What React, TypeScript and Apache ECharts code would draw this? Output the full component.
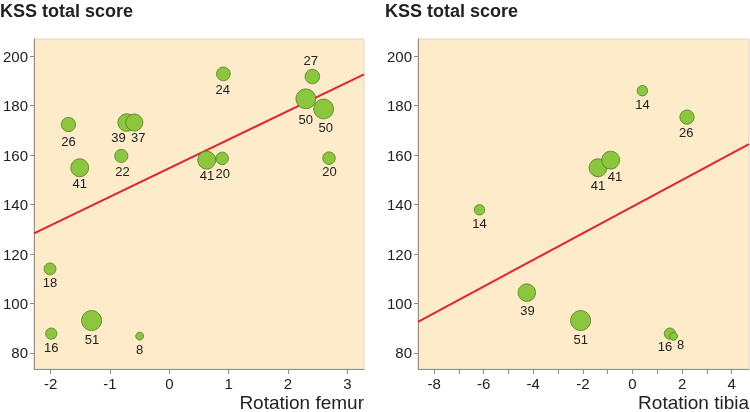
import React, { useEffect, useRef } from "react";
import * as echarts from "echarts";

// ---- Data ----
const femurX = [-1.70, -1.51, -0.81, -0.72, -0.59, 0.91, 0.63, 0.89, 2.41, 2.60, 2.30, 2.69, -2.01, -1.99, -1.31, -0.50];
const femurY = [172.4, 154.9, 159.7, 173.2, 173.2, 192.9, 158.0, 158.7, 191.8, 178.7, 182.8, 158.8, 114.0, 87.8, 93.1, 86.8];
const femurN = [26, 41, 22, 39, 37, 24, 41, 20, 27, 50, 50, 20, 18, 16, 51, 8];

const tibiaX = [0.40, 2.20, -1.39, -0.88, -6.17, -4.26, -2.09, 1.51, 1.66];
const tibiaY = [186.1, 175.4, 154.9, 158.0, 137.9, 104.4, 93.1, 87.8, 86.7];
const tibiaN = [14, 26, 41, 41, 14, 39, 51, 16, 8];

const femurTrendX = [-2.28, 3.28];
const femurTrendY = [128.4, 192.7];
const tibiaTrendX = [-8.65, 4.7];
const tibiaTrendY = [92.6, 164.5];

const yTicks = [80, 100, 120, 140, 160, 180, 200];
const femurXTicks = [-2, -1, 0, 1, 2, 3];
const tibiaXTicks = [-8, -7, -6, -5, -4, -3, -2, -1, 0, 1, 2, 3, 4];
const tibiaXLabels = [-8, -6, -4, -2, 0, 2, 4];

const titleText = "KSS total score";
const femurAxisName = "Rotation femur";
const tibiaAxisName = "Rotation tibia";

// ---- Layout (label offsets from bubble centre, px) ----
const femurLabelOffsets = [
  [0, 16.7], [0, 16], [1.3, 16], [-8, 15.4], [4, 15.4], [-0.7, 15.6], [0.3, 15.7], [0.6, 15],
  [-1.6, -16.3], [2, 18.3], [0, 20.3], [0.6, 13.7], [0, 13.3], [0, 14.3], [0.3, 19], [0, 13],
];
const tibiaLabelOffsets = [
  [0, 14], [-0.7, 15.7], [0, 18], [4.3, 16.7], [0, 13.6], [0.6, 18], [0, 19], [-5, 12.7], [7, 8.6],
];

const FONT = "'Liberation Sans', Arial, Helvetica, sans-serif";
const BG = "#fdebc9";
const BUBBLE = "#8cc63f";
const BUBBLE_BORDER = "#4f7d22";
const RED = "#e1242b";
const AXIS = "#8f8f8f";

function bubbleData(xs: number[], ys: number[], ns: number[], offs: number[][]) {
  return xs.map((x, i) => ({
    value: [x, ys[i], ns[i]],
    label: { offset: offs[i] },
  }));
}

export default function App() {
  const ref = useRef<HTMLDivElement>(null);
  useEffect(() => {
    if (!ref.current) return;
    const chart = echarts.init(ref.current, undefined, { renderer: "svg" });

    const yAxisBase = (gridIndex: number) => ({
      type: "value",
      gridIndex,
      min: 73.5,
      max: 207,
      splitLine: { show: false },
      axisLine: { show: true, onZero: false, lineStyle: { color: AXIS, width: 1 } },
      axisTick: { show: true, length: 4, lineStyle: { color: AXIS }, customValues: yTicks },
      axisLabel: { color: "#222", fontSize: 15, fontFamily: FONT, margin: 6, customValues: yTicks },
    });

    const xAxisBase = (gridIndex: number, min: number, max: number, ticks: number[], labels: number[]) => ({
      type: "value",
      gridIndex,
      min,
      max,
      splitLine: { show: false },
      axisLine: { show: true, onZero: false, lineStyle: { color: AXIS, width: 1 } },
      axisTick: { show: true, length: 5, lineStyle: { color: AXIS }, customValues: ticks },
      axisLabel: { color: "#222", fontSize: 15, lineHeight: 15, fontFamily: FONT, margin: 7, customValues: labels },
    });

    const scatter = (xi: number, data: any[]) => ({
      type: "scatter",
      xAxisIndex: xi,
      yAxisIndex: xi,
      z: 3,
      symbolSize: (v: number[]) => 2.8 * Math.sqrt(v[2]),
      itemStyle: { color: BUBBLE, borderColor: BUBBLE_BORDER, borderWidth: 0.8, opacity: 1 },
      label: {
        show: true,
        position: "inside",
        formatter: (p: any) => String(p.value[2]),
        color: "#222",
        fontSize: 13,
        fontFamily: FONT,
      },
      emphasis: { disabled: true },
      data,
    });

    const trend = (xi: number, xs: number[], ys: number[]) => ({
      type: "line",
      xAxisIndex: xi,
      yAxisIndex: xi,
      z: 2,
      showSymbol: false,
      symbol: "none",
      clip: true,
      lineStyle: { color: RED, width: 2 },
      emphasis: { disabled: true },
      data: xs.map((x, i) => [x, ys[i]]),
    });

    const nameStyle = { fontSize: 19, lineHeight: 19, fontFamily: FONT, fill: "#222" };

    chart.setOption({
      animation: false,
      grid: [
        { left: 33, top: 39, width: 331, height: 330, show: true, backgroundColor: BG, borderColor: "#ddd6c8", borderWidth: 1 },
        { left: 418, top: 39, width: 331, height: 330, show: true, backgroundColor: BG, borderColor: "#ddd6c8", borderWidth: 1 },
      ],
      xAxis: [
        xAxisBase(0, -2.28, 3.28, femurXTicks, femurXTicks),
        xAxisBase(1, -8.65, 4.7, tibiaXTicks, tibiaXLabels),
      ],
      yAxis: [yAxisBase(0), yAxisBase(1)],
      series: [
        trend(0, femurTrendX, femurTrendY),
        scatter(0, bubbleData(femurX, femurY, femurN, femurLabelOffsets)),
        trend(1, tibiaTrendX, tibiaTrendY),
        scatter(1, bubbleData(tibiaX, tibiaY, tibiaN, tibiaLabelOffsets)),
      ],
      graphic: [
        { type: "text", left: 0, top: 2, style: { text: titleText, fontSize: 18, fontWeight: "bold", fontFamily: FONT, fill: "#222" } },
        { type: "text", left: 385, top: 2, style: { text: titleText, fontSize: 18, fontWeight: "bold", fontFamily: FONT, fill: "#222" } },
        { type: "text", right: 386, top: 393, style: { text: femurAxisName, ...nameStyle } },
        { type: "text", right: 1, top: 393, style: { text: tibiaAxisName, ...nameStyle } },
      ],
    });
    return () => chart.dispose();
  }, []);
  return <div ref={ref} style={{ position: "fixed", left: 0, top: 0, width: 750, height: 412 }} />;
}
